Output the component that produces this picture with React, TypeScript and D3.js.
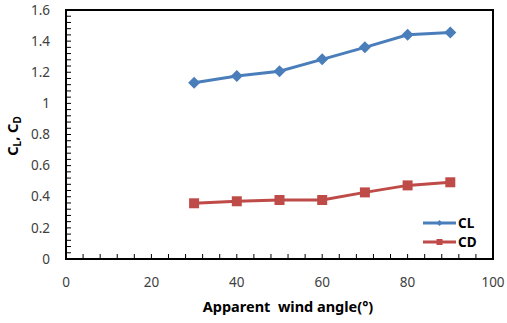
import React from "react";
import * as d3 from "d3";

const angles = [30, 40, 50, 60, 70, 80, 90];
const clValues = [1.133, 1.176, 1.206, 1.283, 1.36, 1.441, 1.455];
const cdValues = [0.358, 0.371, 0.379, 0.379, 0.428, 0.473, 0.493];
const xTicks = [0, 20, 40, 60, 80, 100];
const yTicks = [0, 0.2, 0.4, 0.6, 0.8, 1, 1.2, 1.4, 1.6];

const W = 507, H = 323;
const L = 66, R = 493, T = 10, B = 259;

function diamondPath(r: number) {
  const p = d3.path();
  p.moveTo(0, -r);
  p.lineTo(r, 0);
  p.lineTo(0, r);
  p.lineTo(-r, 0);
  p.closePath();
  return p.toString();
}

export default function App() {
  const x = d3.scaleLinear().domain([0, 100]).range([L, R]);
  const y = d3.scaleLinear().domain([0, 1.6]).range([B, T]);
  const line = d3.line<number>().x((_, i) => x(angles[i])).y((d) => y(d));
  const xMinor = d3.range(0, 100.001, 4);
  const yMinor = d3.range(0, 1.6001, 0.04);
  const font = "'Noto Sans', 'Open Sans', sans-serif";
  const blue = "#4a7ebb";
  const red = "#be4b48";
  const diamond = diamondPath(6);
  const square = d3.symbol().type(d3.symbolSquare).size(100)();
  const smallDiamond = diamondPath(3);
  const smallSquare = d3.symbol().type(d3.symbolSquare).size(36)();
  return (
    <svg width={W} height={H} style={{ position: "absolute", left: 0, top: 0, background: "#fff" }}>
      <rect x={0} y={0} width={W} height={H} fill="#fff" />
      <rect x={L} y={T} width={R - L} height={B - T} fill="none" stroke="#000" strokeWidth={2} />
      {xMinor.map((v) => (
        <line key={"xm" + v} x1={x(v)} x2={x(v)} y1={B} y2={B - 5} stroke="#000" strokeWidth={1} />
      ))}
      {yMinor.map((v) => (
        <line key={"ym" + v} x1={L} x2={L + 5} y1={y(v)} y2={y(v)} stroke="#000" strokeWidth={1} />
      ))}
      {yTicks.map((v) => (
        <text key={"yt" + v} x={50} y={y(v)} dy="0.35em" textAnchor="end" fontSize={13.5} fill="#404040" fontFamily={font}>
          {String(v)}
        </text>
      ))}
      {xTicks.map((v) => (
        <text key={"xt" + v} x={x(v)} y={282} dy="0.35em" textAnchor="middle" fontSize={13.5} fill="#404040" fontFamily={font}>
          {String(v)}
        </text>
      ))}
      <text x={288} y={312} textAnchor="middle" fontSize={14.5} fontWeight="bold" fill="#000" fontFamily={font} xmlSpace="preserve">
        Apparent  wind angle(°)
      </text>
      <text transform="translate(18,136) rotate(-90)" textAnchor="middle" fontSize={14.5} fontWeight="bold" fill="#000" fontFamily={font}>
        C<tspan fontSize={10} dy={3}>L</tspan><tspan dy={-3}>, C</tspan><tspan fontSize={10} dy={3}>D</tspan>
      </text>
      <path d={line(clValues) || ""} fill="none" stroke={blue} strokeWidth={3} />
      {clValues.map((v, i) => (
        <path key={"cl" + i} d={diamond} transform={`translate(${x(angles[i])},${y(v)})`} fill={blue} />
      ))}
      <path d={line(cdValues) || ""} fill="none" stroke={red} strokeWidth={3} />
      {cdValues.map((v, i) => (
        <path key={"cd" + i} d={square || ""} transform={`translate(${x(angles[i])},${y(v)})`} fill={red} />
      ))}
      <line x1={423} x2={456} y1={223} y2={223} stroke={blue} strokeWidth={3} />
      <path d={smallDiamond} transform="translate(439.5,223)" fill={blue} />
      <text x={458} y={223} dy="0.35em" fontSize={13.5} fontWeight="bold" fill="#000" fontFamily={font}>CL</text>
      <line x1={423} x2={456} y1={242} y2={242} stroke={red} strokeWidth={3} />
      <path d={smallSquare || ""} transform="translate(439.5,242)" fill={red} />
      <text x={458} y={242} dy="0.35em" fontSize={13.5} fontWeight="bold" fill="#000" fontFamily={font}>CD</text>
    </svg>
  );
}
